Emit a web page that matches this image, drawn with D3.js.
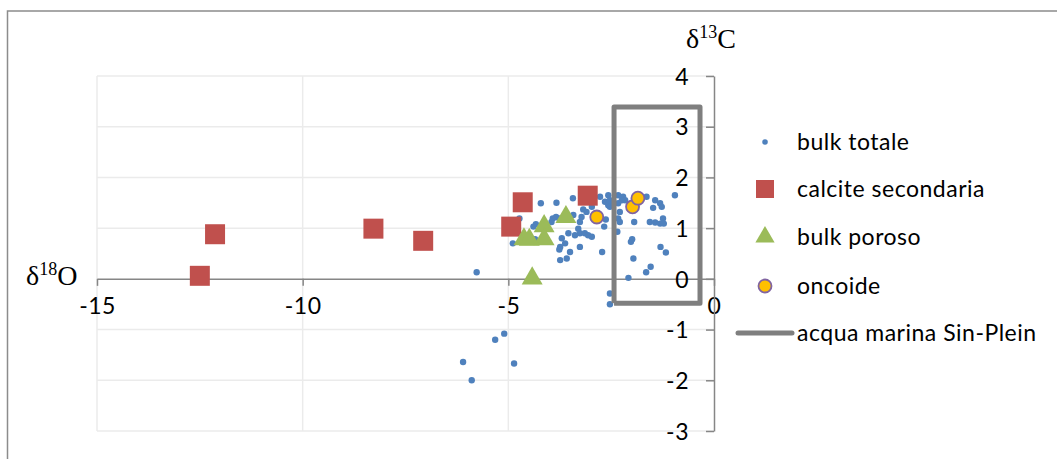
<!DOCTYPE html>
<html>
<head>
<meta charset="utf-8">
<script src="https://cdn.jsdelivr.net/npm/d3@7"></script>
<style>
  body { margin: 0; background: #fff; }
  svg { display: block; }
  .lbl { font-family: Lato, "Open Sans", sans-serif; font-size: 23px; letter-spacing: 0.5px; fill: #000; }
  .ttl { font-family: "Liberation Serif", "DejaVu Serif", serif; font-size: 28px; fill: #000; }
</style>
</head>
<body>
<svg></svg>
<script>
const svgWidth = 1057;
const svgHeight = 459;

// delta18O, delta13C pairs
const bulkTotale = [
  [-5.77, 0.13], [-6.10, -1.64], [-5.89, -2.00], [-5.32, -1.20], [-5.10, -1.08], [-4.86, -1.67],
  [-4.89, 0.70], [-4.21, 1.49], [-3.83, 1.50], [-3.43, 1.59], [-2.77, 1.62], [-2.57, 1.65],
  [-2.65, 1.52], [-2.57, 1.45], [-2.53, 1.42], [-2.97, 1.42], [-3.10, 1.32], [-3.22, 1.22],
  [-3.42, 1.26], [-3.92, 1.19], [-3.84, 1.22], [-3.76, 1.19], [-4.33, 1.08], [-4.39, 1.03],
  [-4.73, 1.19], [-3.26, 1.12], [-3.30, 0.99], [-3.26, 0.90], [-3.38, 0.86], [-3.54, 0.90],
  [-3.70, 0.80], [-3.62, 0.70], [-3.74, 0.63], [-3.14, 0.90], [-3.06, 0.86], [-2.97, 0.83],
  [-3.26, 0.63], [-3.50, 0.53], [-3.58, 0.40], [-3.74, 0.37], [-3.76, 0.58], [-4.35, 0.78],
  [-2.72, 0.53], [-2.67, 1.03], [-2.33, 1.65], [-2.21, 1.62], [-2.16, 1.55], [-2.33, 1.49],
  [-2.29, 1.32], [-2.33, 1.19], [-2.29, 1.12], [-2.35, 0.93], [-1.94, 1.12], [-2.02, 0.73],
  [-1.99, 0.78], [-1.96, 0.40], [-2.08, 0.02], [-2.53, -0.29], [-2.53, -0.50], [-1.64, 1.62],
  [-1.43, 1.55], [-1.31, 1.49], [-1.27, 1.42], [-1.48, 1.40], [-1.56, 1.12], [-1.43, 1.11],
  [-1.31, 1.09], [-1.24, 1.19], [-1.22, 1.09], [-0.95, 1.65], [-1.30, 0.63], [-1.17, 0.52],
  [-1.54, 0.24], [-1.65, 0.13], [-2.53, 1.55], [-2.45, 1.49], [-3.18, 1.37], [-3.95, 1.12],
  [-2.63, 1.17], [-2.24, 1.55]
];
const calciteSecondaria = [
  [-12.13, 0.88], [-12.50, 0.06], [-8.28, 0.99], [-7.07, 0.75], [-4.65, 1.51], [-4.93, 1.03], [-3.07, 1.64]
];
const bulkPoroso = [
  [-3.60, 1.22], [-4.13, 1.04], [-4.13, 0.78], [-4.62, 0.78], [-4.49, 0.77], [-4.42, 0.01]
];
const oncoide = [
  [-2.85, 1.22], [-1.98, 1.42], [-1.85, 1.59]
];
const acquaMarina = [
  [-2.43, -0.48], [-2.43, 3.39], [-0.34, 3.39], [-0.34, -0.48], [-2.43, -0.48]
];

const xTicks = [-15, -10, -5, 0];
const yTicks = [-3, -2, -1, 0, 1, 2, 3, 4];
const legendNames = ["bulk totale", "calcite secondaria", "bulk poroso", "oncoide", "acqua marina Sin-Plein"];

const svg = d3.select("svg")
  .attr("width", svgWidth)
  .attr("height", svgHeight);

const xScale = d3.scaleLinear().domain([-15, 0]).range([97, 714]);
const yScale = d3.scaleLinear().domain([-3, 4]).range([431, 76]);

// chart frame (cut by the picture on right and bottom)
svg.append("rect")
  .attr("x", 7.5).attr("y", 11)
  .attr("width", 1200).attr("height", 600)
  .attr("fill", "none")
  .attr("stroke", "#8c8c8c")
  .attr("stroke-width", 1.5);

// gridlines
svg.append("g")
  .selectAll("line")
  .data(yTicks.filter(d => d !== 0))
  .join("line")
  .attr("x1", xScale(-15)).attr("x2", xScale(0))
  .attr("y1", d => yScale(d)).attr("y2", d => yScale(d))
  .attr("stroke", "#ebebeb").attr("stroke-width", 1.5);

svg.append("g")
  .selectAll("line")
  .data(xTicks.filter(d => d !== 0))
  .join("line")
  .attr("x1", d => xScale(d)).attr("x2", d => xScale(d))
  .attr("y1", yScale(4)).attr("y2", yScale(-3))
  .attr("stroke", "#ebebeb").attr("stroke-width", 1.5);

// axes crossing at origin, plain hyphen for negatives
let xAxis = d3.axisBottom(xScale).tickValues(xTicks).tickSize(7).tickSizeOuter(0).tickFormat(d => String(d));
let yAxis = d3.axisLeft(yScale).tickValues(yTicks).tickSize(8).tickSizeOuter(0).tickFormat(d => String(d));

const gx = svg.append("g")
  .attr("transform", `translate(0, ${yScale(0)})`)
  .call(xAxis);
const gy = svg.append("g")
  .attr("transform", `translate(${xScale(0)}, 0)`)
  .call(yAxis);

[gx, gy].forEach(g => {
  g.select(".domain").attr("stroke", "#868686").attr("stroke-width", 1.5);
  g.selectAll(".tick line").attr("stroke", "#868686").attr("stroke-width", 1.5);
  g.selectAll(".tick text").attr("class", "lbl").attr("fill", "#000");
});
gx.selectAll(".tick text").attr("y", 19).attr("dy", "0.71em");
gy.selectAll(".tick text").attr("x", -25).attr("dy", "0.36em");

// axis titles
const xTitle = svg.append("text").attr("class", "ttl").attr("x", 26).attr("y", 285);
xTitle.append("tspan").text("δ");
xTitle.append("tspan").text("18").attr("font-size", 18).attr("dy", -10);
xTitle.append("tspan").text("O").attr("dy", 10);

const yTitle = svg.append("text").attr("class", "ttl").attr("x", 686).attr("y", 48);
yTitle.append("tspan").text("δ");
yTitle.append("tspan").text("13").attr("font-size", 18).attr("dy", -10);
yTitle.append("tspan").text("C").attr("dy", 10);

// series
svg.append("g")
  .selectAll("circle")
  .data(bulkTotale)
  .join("circle")
  .attr("cx", d => xScale(d[0]))
  .attr("cy", d => yScale(d[1]))
  .attr("r", 3.2)
  .attr("fill", "#4f81bd");

const square = d3.symbol(d3.symbolSquare, 400);
svg.append("g")
  .selectAll("path")
  .data(calciteSecondaria)
  .join("path")
  .attr("d", square)
  .attr("transform", d => `translate(${xScale(d[0])}, ${yScale(d[1])})`)
  .attr("fill", "#c0504d");

const triangle = d3.symbol(d3.symbolTriangle, 190);
svg.append("g")
  .selectAll("path")
  .data(bulkPoroso)
  .join("path")
  .attr("d", triangle)
  .attr("transform", d => `translate(${xScale(d[0])}, ${yScale(d[1])})`)
  .attr("fill", "#9bbb59");

svg.append("g")
  .selectAll("circle")
  .data(oncoide)
  .join("circle")
  .attr("cx", d => xScale(d[0]))
  .attr("cy", d => yScale(d[1]))
  .attr("r", 6.5)
  .attr("fill", "#ffc000")
  .attr("stroke", "#8064a2")
  .attr("stroke-width", 1.8);

const line = d3.line().x(d => xScale(d[0])).y(d => yScale(d[1]));
svg.append("path")
  .datum(acquaMarina)
  .attr("d", line)
  .attr("fill", "none")
  .attr("stroke", "#7f7f7f")
  .attr("stroke-width", 5)
  .attr("stroke-linejoin", "round");

// legend
const legend = svg.append("g").attr("transform", "translate(765, 0)");
const rowY = [142, 189, 237, 286, 333];

legend.append("circle").attr("cy", rowY[0]).attr("r", 2.8).attr("fill", "#4f81bd");
legend.append("path").attr("d", d3.symbol(d3.symbolSquare, 324))
  .attr("transform", `translate(0, ${rowY[1]})`).attr("fill", "#c0504d");
legend.append("path").attr("d", d3.symbol(d3.symbolTriangle, 160))
  .attr("transform", `translate(0, ${rowY[2]})`).attr("fill", "#9bbb59");
legend.append("circle").attr("cy", rowY[3]).attr("r", 6.5)
  .attr("fill", "#ffc000").attr("stroke", "#8064a2").attr("stroke-width", 1.8);
legend.append("line")
  .attr("x1", -27).attr("x2", 27).attr("y1", rowY[4]).attr("y2", rowY[4])
  .attr("stroke", "#7f7f7f").attr("stroke-width", 5).attr("stroke-linecap", "round");

legend.selectAll("text.lbl")
  .data(legendNames)
  .join("text")
  .attr("class", "lbl")
  .attr("x", 32)
  .attr("y", (d, i) => rowY[i])
  .attr("dy", "0.36em")
  .text(d => d);
</script>
</body>
</html>
